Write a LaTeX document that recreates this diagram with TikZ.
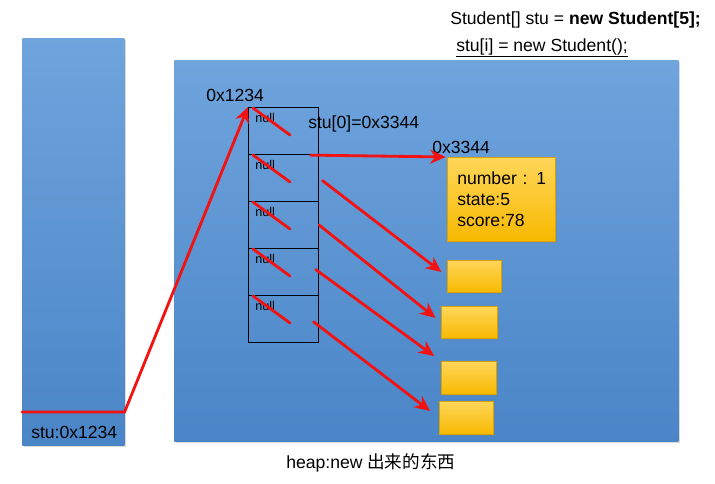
\documentclass[tikz,border=0pt]{standalone}
\usepackage{fontspec}
\setmainfont{Liberation Sans}
\newfontfamily\cjk{Noto Sans CJK SC}
\usetikzlibrary{arrows.meta, positioning, shadows}
\definecolor{blueTop}{HTML}{6FA4DD}
\definecolor{blueBot}{HTML}{4A85C7}
\definecolor{yelTop}{HTML}{FFD65A}
\definecolor{yelBot}{HTML}{F7B900}
\definecolor{yelLine}{HTML}{D9A200}
\definecolor{ptrRed}{HTML}{F21212}

\begin{document}
\begin{tikzpicture}[x=0.025cm, y=-0.025cm,
  every node/.style={font=\fontsize{12.5}{15}\selectfont},
  memarea/.style={rectangle, anchor=north west, inner sep=0pt, top color=blueTop, bottom color=blueBot,
    drop shadow={shadow xshift=0.05cm, shadow yshift=-0.05cm, opacity=0.3}},
  cell/.style={rectangle, draw=black, line width=0.8pt, anchor=north west, inner sep=0pt,
    minimum width=1.75cm, minimum height=1.175cm,
    label={[nulllbl]north west:null}},
  nulllbl/.style={anchor=north west, inner sep=0pt, xshift=5pt, yshift=-4.5pt, font=\fontsize{9}{10}\selectfont},
  yelbox/.style={rectangle, anchor=north west, inner sep=0pt, top color=yelTop, bottom color=yelBot,
    draw=yelLine, line width=0.4pt, drop shadow={shadow xshift=0.04cm, shadow yshift=-0.04cm, opacity=0.3}},
  lbl/.style={anchor=west, inner sep=0pt},
  ptr/.style={draw=ptrRed, line width=2pt, line cap=round},
  ptrarrow/.style={ptr, -{Stealth[length=11pt, width=10pt, inset=3.5pt]}}]

\useasboundingbox (0,0) rectangle (715,484);

% --- stack and heap ---
\node[memarea, minimum width=2.55cm, minimum height=10.175cm] (stack) at (22,38) {};
\node[memarea, minimum width=12.6cm, minimum height=9.525cm] (heap) at (174,60) {};

% --- array cells ---
\foreach \i in {0,...,4}
  \node[cell] (c\i) at (248,{107+47*\i}) {};
\foreach \i in {0,...,4}
  \draw[ptr] ([shift={(5,1)}]c\i.north west) -- ++(37,27);

% --- objects ---
\node[yelbox, text width=2.2cm, inner xsep=0.25cm, minimum height=2.1cm, align=left] (obj) at (447,157)
  {\mbox{number : 1}\\state:5\\score:78};
\node[yelbox, minimum width=1.35cm, minimum height=0.8cm] (b1) at (447,260) {};
\node[yelbox, minimum width=1.4cm, minimum height=0.8cm] (b2) at (441,306) {};
\node[yelbox, minimum width=1.375cm, minimum height=0.825cm] (b3) at (441,361) {};
\node[yelbox, minimum width=1.35cm, minimum height=0.825cm] (b4) at (439,401) {};

% --- labels ---
\node[lbl] (addrArr) at (206,95) {0x1234};
\node[lbl] (elem0) at (308,124) {stu[0]=0x3344};
\node[lbl] (addrObj) at (432,147) {0x3344};
\node[lbl] (stuVar) at (31,432) {stu:0x1234};
\node[lbl] (heapCap) at (286,463) {heap:new {\cjk 出来的东西}};
\node[lbl] (code1) at (450,20) {Student[] stu = \textbf{new Student[5];}};
\node[lbl] (code2) at (456,48) {\underline{stu[i] = new Student();}};

% --- references ---
\coordinate (ref) at (22,412);
\draw[ptrarrow] (ref) -- (ref -| stack.east) -- (c0.north west);
\draw[ptrarrow, shorten >=1pt] ([xshift=-6pt]c0.south east) -- (obj.north west);
\draw[ptrarrow, shorten <=3pt, shorten >=5pt] (c1.east) -- (b1.west);
\draw[ptrarrow, shorten >=5pt] (c2.east) -- (b2.west);
\draw[ptrarrow, shorten <=-3pt, shorten >=6pt] (c3.east) -- (b3.north west);
\draw[ptrarrow, shorten <=-5pt, shorten >=8pt] ([yshift=-5pt]c4.east) -- (b4.west);

\end{tikzpicture}
\end{document}
